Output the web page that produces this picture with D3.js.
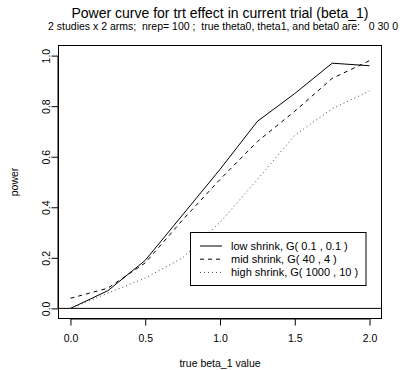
<!DOCTYPE html>
<html>
<head>
<meta charset="utf-8">
<script src="https://cdn.jsdelivr.net/npm/d3@7"></script>
<style>
  body { margin: 0; background: #fff; }
  svg { display: block; }
  text { font-family: "Liberation Sans", Arial, Helvetica, sans-serif; fill: #000; }
</style>
</head>
<body>
<svg id="chart" width="409" height="370"></svg>
<script>
const betaValues = [0, 0.25, 0.5, 0.75, 1.0, 1.25, 1.5, 1.75, 2.0];
const lowShrink  = [0.00, 0.07, 0.19, 0.37, 0.55, 0.74, 0.85, 0.97, 0.96];
const midShrink  = [0.04, 0.08, 0.18, 0.35, 0.51, 0.66, 0.78, 0.91, 0.98];
const highShrink = [0.00, 0.06, 0.12, 0.20, 0.34, 0.51, 0.685, 0.79, 0.86];
const seriesNames = ["low shrink, G( 0.1 , 0.1 )", "mid shrink, G( 40 , 4 )", "high shrink, G( 1000 , 10 )"];
const xTicks = [0, 0.5, 1.0, 1.5, 2.0];
const yTicks = [0, 0.2, 0.4, 0.6, 0.8, 1.0];
const titleText = "Power curve for trt effect in current trial (beta_1)";
const subtitleText = "2 studies x 2 arms;  nrep= 100 ;  true theta0, theta1, and beta0 are:   0 30 0";
const xLabel = "true beta_1 value";
const yLabel = "power";

const svg = d3.select("#chart");
const box = { left: 58.5, right: 381.5, top: 45.5, bottom: 318.5 };

const x = d3.scaleLinear().domain([-0.08, 2.08]).range([box.left, box.right]);
const y = d3.scaleLinear().domain([-0.04, 1.04]).range([box.bottom, box.top]);

// Title + subtitle
const cx = (box.left + box.right) / 2;
svg.append("text").attr("x", cx).attr("y", 18).attr("text-anchor", "middle")
  .style("font-size", "14px").text(titleText);
svg.append("text").attr("x", cx + 3).attr("y", 29.5).attr("text-anchor", "middle")
  .style("font-size", "10.5px").style("white-space", "pre").attr("xml:space", "preserve")
  .text(subtitleText);

// Axes
const xAxis = d3.axisBottom(x).tickValues(xTicks).tickFormat(d3.format(".1f")).tickSizeOuter(0).tickSize(7).tickPadding(9);
const gx = svg.append("g").attr("transform", `translate(0,${box.bottom})`).call(xAxis);
gx.select(".domain").attr("d", `M${x(0)},0.5H${x(2)}`).attr("stroke", "#000");
gx.selectAll("text").style("font-size", "10.5px").style("font-family", "Liberation Sans, Arial, sans-serif");

const yAxis = d3.axisLeft(y).tickValues(yTicks).tickFormat(d3.format(".1f")).tickSizeOuter(0).tickSize(7).tickPadding(0);
const gy = svg.append("g").attr("transform", `translate(${box.left},0)`).call(yAxis);
gy.select(".domain").attr("d", `M-0.5,${y(0)}V${y(1)}`).attr("stroke", "#000");
gy.selectAll(".tick text")
  .attr("x", 0).attr("dy", 0)
  .attr("transform", "translate(-9,0) rotate(-90)")
  .attr("text-anchor", "middle")
  .style("font-size", "10.5px").style("font-family", "Liberation Sans, Arial, sans-serif");

// Box
svg.append("rect").attr("x", box.left).attr("y", box.top)
  .attr("width", box.right - box.left).attr("height", box.bottom - box.top)
  .attr("fill", "none").attr("stroke", "#000").attr("stroke-width", 1);

// Axis labels
svg.append("text").attr("x", cx).attr("y", 367).attr("text-anchor", "middle")
  .style("font-size", "10.5px").text(xLabel);
svg.append("text").attr("transform", `translate(18,${(box.top + box.bottom) / 2}) rotate(-90)`)
  .attr("text-anchor", "middle").style("font-size", "10.5px").text(yLabel);

// Horizontal reference line at 0
svg.append("line").attr("x1", box.left).attr("x2", box.right)
  .attr("y1", y(0)).attr("y2", y(0)).attr("stroke", "#000").attr("stroke-width", 1);

// Series
const dashes = [null, "4,4", "1,3"];
const colors = ["#000", "#000", "#444"];
const allSeries = [lowShrink, midShrink, highShrink];
const line = d3.line().x((d, i) => x(betaValues[i])).y(d => y(d));
allSeries.forEach((vals, k) => {
  svg.append("path").datum(vals).attr("d", line)
    .attr("fill", "none").attr("stroke", colors[k]).attr("stroke-width", 1)
    .attr("stroke-dasharray", dashes[k]);
});

// Legend
const lg = { left: 190.5, top: 232.5, right: 366, bottom: 285.5 };
svg.append("rect").attr("x", lg.left).attr("y", lg.top)
  .attr("width", lg.right - lg.left).attr("height", lg.bottom - lg.top)
  .attr("fill", "#fff").attr("stroke", "#000").attr("stroke-width", 1);
const rowY = [246, 259.2, 272.4];
seriesNames.forEach((name, k) => {
  svg.append("line").attr("x1", 200).attr("x2", 222).attr("y1", rowY[k]).attr("y2", rowY[k])
    .attr("stroke", colors[k]).attr("stroke-width", 1).attr("stroke-dasharray", dashes[k]);
  svg.append("text").attr("x", 231).attr("y", rowY[k] + 4)
    .style("font-size", "11px").text(name);
});
</script>
</body>
</html>
